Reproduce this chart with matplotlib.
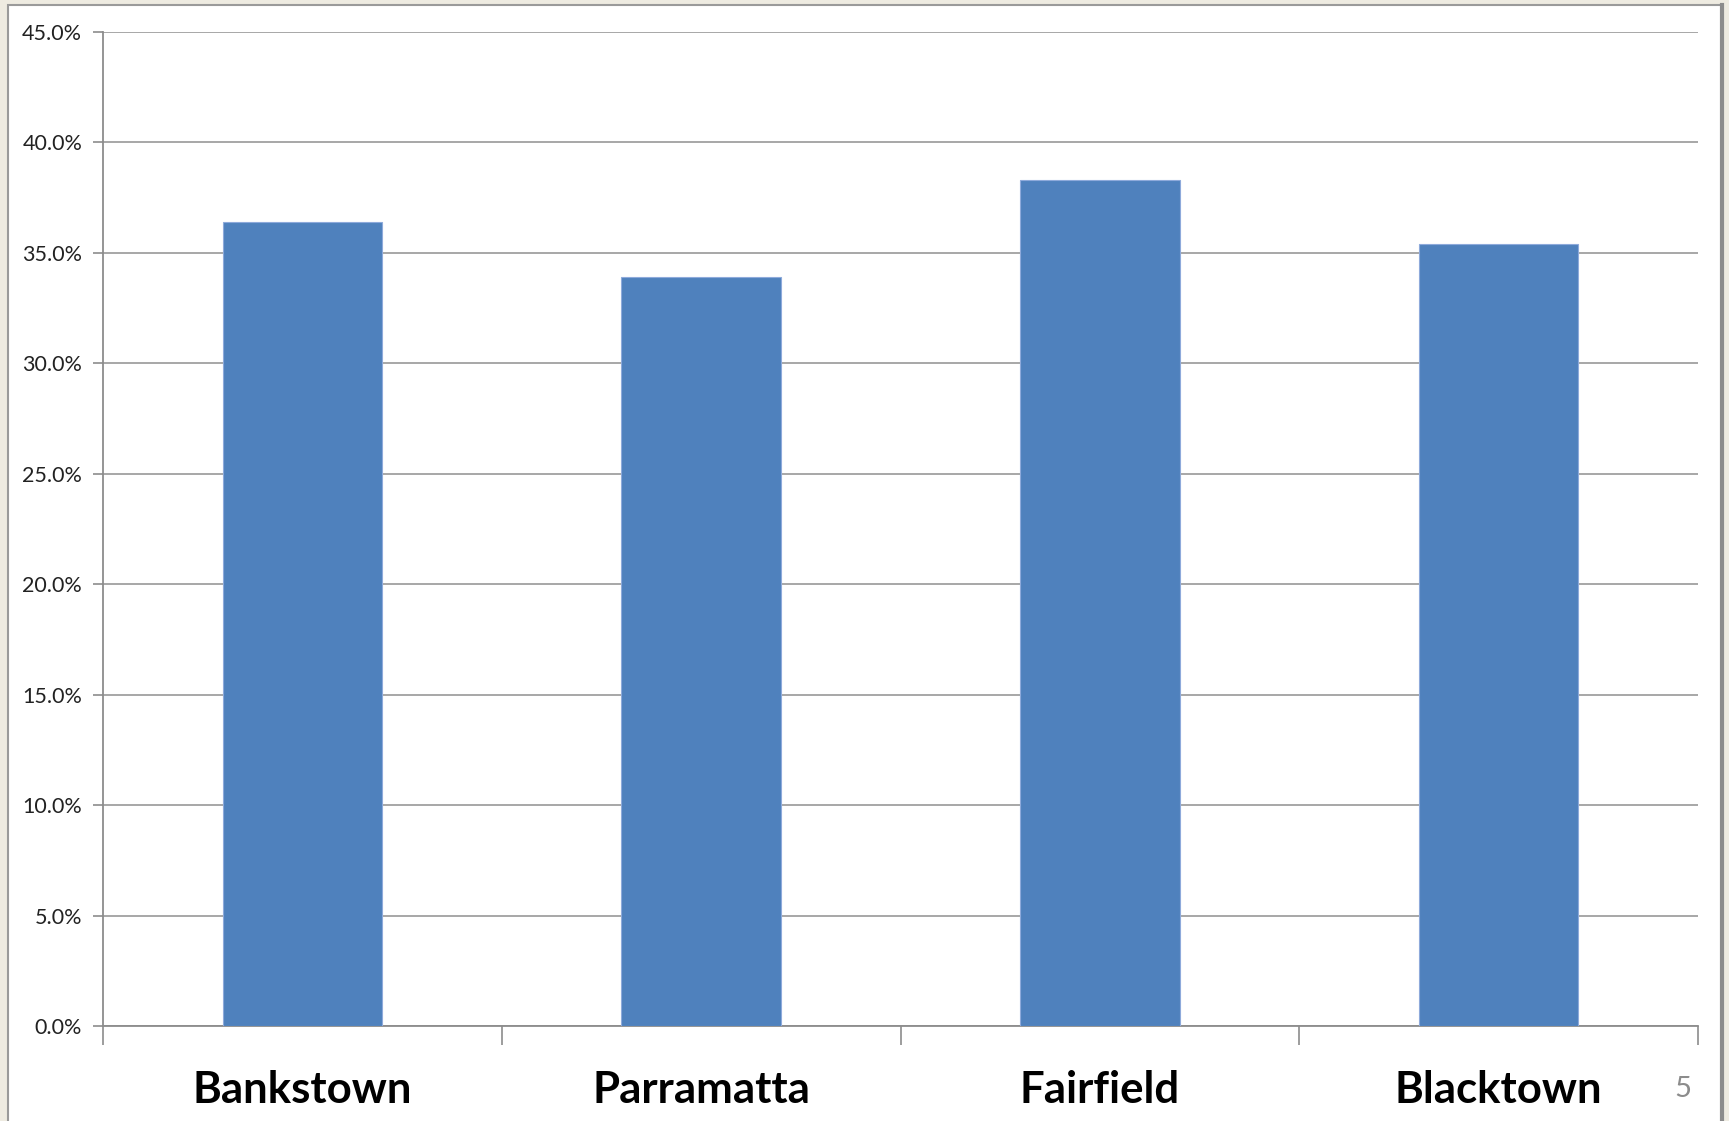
"""Share of residents by LGA, simple column chart on a slide-style panel."""
import matplotlib
matplotlib.use("Agg")
import matplotlib.pyplot as plt
from matplotlib.patches import Rectangle
from matplotlib.ticker import FuncFormatter, MultipleLocator

areas = ["Bankstown", "Parramatta", "Fairfield", "Blacktown"]
shares = [36.4, 33.9, 38.3, 35.4]  # percent
page_no = "5"

W, H = 1729, 1121
fig = plt.figure(figsize=(W / 100, H / 100), dpi=100)
fig.patch.set_facecolor("#EEEBE1")

# white slide panel with grey frame (open at the bottom edge)
panel = Rectangle((8 / W, -0.01), (1722 - 8) / W, 1 - 5 / H + 0.01,
                  transform=fig.transFigure, facecolor="white",
                  edgecolor="#9A9A9A", lw=1.5, zorder=-10)
fig.patches.append(panel)
fig.add_artist(plt.Line2D([1722 / W, 1722 / W], [0, 1 - 5 / H],
                          transform=fig.transFigure, color="#8C8C8C", lw=3,
                          zorder=-5))

ax = fig.add_axes([103 / W, 1 - 1026 / H, (1698 - 103) / W, (1026 - 32) / H])
ax.set_facecolor("none")

x = range(len(areas))
ax.bar(x, shares, width=0.4, color="#4F81BD", edgecolor="#8EAADB", lw=0.8, zorder=3)

ax.set_xlim(-0.5, len(areas) - 0.5)
ax.set_ylim(0, 45)
ax.yaxis.set_major_locator(MultipleLocator(5))
ax.yaxis.set_major_formatter(FuncFormatter(lambda v, _: f"{v:.1f}%"))
ax.yaxis.grid(True, color="#A0A0A0", lw=1.3)
ax.set_axisbelow(True)

# category boundaries carry the tick marks; names sit on minor ticks
ax.set_xticks([i - 0.5 for i in range(len(areas) + 1)])
ax.set_xticklabels([])
ax.set_xticks(list(x), minor=True)
ax.set_xticklabels(areas, minor=True, fontsize=31.5, fontweight="bold",
                   family=["Lato", "DejaVu Sans"])
ax.tick_params(axis="x", which="major", length=14, width=1.2, color="#8C8C8C")
ax.tick_params(axis="x", which="minor", length=0, pad=32)
ax.tick_params(axis="y", length=7, width=1.2, color="#8C8C8C", pad=8,
               labelsize=15.5, labelcolor="#222222")
for lab in ax.get_yticklabels():
    lab.set_family(["Lato", "DejaVu Sans"])

for side in ("top", "right"):
    ax.spines[side].set_visible(False)
for side in ("left", "bottom"):
    ax.spines[side].set_color("#8C8C8C")
    ax.spines[side].set_linewidth(1.3)

fig.text(1683 / W, 1 - 1089 / H, page_no, fontsize=21, color="#8C8C8C",
         ha="center", va="center", family=["Lato", "DejaVu Sans"])

fig.savefig("out.png", dpi=100, facecolor=fig.get_facecolor())
